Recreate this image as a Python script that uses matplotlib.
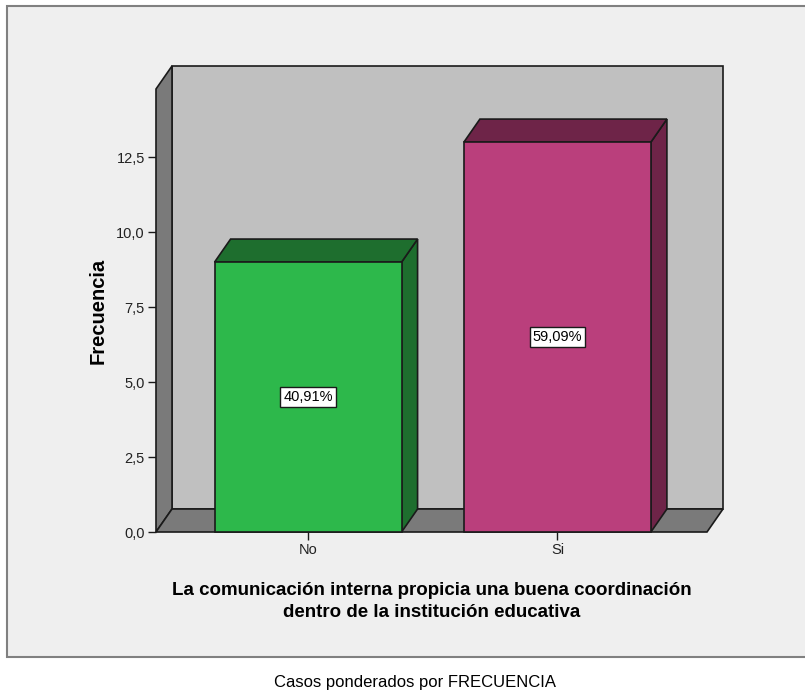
import matplotlib
matplotlib.use('Agg')
import matplotlib.pyplot as plt
from matplotlib.patches import Rectangle, Polygon

# datos
categorias = ['No', 'Si']
frecuencias = [9, 13]
porcentajes = ['40,91%', '59,09%']
y_ticks = [0, 2.5, 5, 7.5, 10, 12.5]
y_tick_labels = ['0,0', '2,5', '5,0', '7,5', '10,0', '12,5']

# colores estilo SPSS
color_frente = ['#2DB84B', '#BA3F7C']
color_lado = ['#1E6E2E', '#6E2448']
gris_fondo = '#C0C0C0'
gris_suelo = '#7A7A7A'
borde = '#1A1A1A'

plt.rcParams['font.family'] = ['Liberation Sans Narrow', 'Liberation Sans', 'DejaVu Sans']

fig = plt.figure(figsize=(8.05, 6.94), dpi=100)
fig.patch.set_facecolor('white')

# marco del grafico
marco = Rectangle((7 / 805, 37 / 694), 800 / 805, 651 / 694, transform=fig.transFigure,
                  facecolor='#EFEFEF', edgecolor='#808080', linewidth=1.5, zorder=-1)
fig.patches.append(marco)

ax = fig.add_axes([156 / 805, 162 / 694, 551 / 805, 443 / 694])
ax.set_facecolor('none')
x0, x1 = -0.61, 1.60
ymax = 14.77
ax.set_xlim(x0, x1)
ax.set_ylim(0, ymax)

# profundidad 3D (en pixeles -> unidades de datos)
dx = 16 * (x1 - x0) / 551
dy = 23 * ymax / 443

# pared del fondo, pared izquierda y suelo
ax.add_patch(Rectangle((x0 + dx, dy), x1 - x0, ymax, facecolor=gris_fondo,
                       edgecolor=borde, linewidth=1.2, clip_on=False, zorder=1))
ax.add_patch(Polygon([(x0, 0), (x0 + dx, dy), (x0 + dx, ymax + dy), (x0, ymax)],
                     facecolor=gris_suelo, edgecolor=borde, linewidth=1.2, clip_on=False, zorder=2))
ax.add_patch(Polygon([(x0, 0), (x1, 0), (x1 + dx, dy), (x0 + dx, dy)],
                     facecolor=gris_suelo, edgecolor=borde, linewidth=1.2, clip_on=False, zorder=2))

# barras 3D
ancho = 0.75
for i, v in enumerate(frecuencias):
    izq, der = i - ancho / 2, i + ancho / 2
    ax.add_patch(Polygon([(der, 0), (der + dx, dy), (der + dx, v + dy), (der, v)],
                         facecolor=color_lado[i], edgecolor=borde, linewidth=1.2, clip_on=False, zorder=3))
    ax.add_patch(Polygon([(izq, v), (der, v), (der + dx, v + dy), (izq + dx, v + dy)],
                         facecolor=color_lado[i], edgecolor=borde, linewidth=1.2, clip_on=False, zorder=3))
    ax.add_patch(Rectangle((izq, 0), ancho, v, facecolor=color_frente[i],
                           edgecolor=borde, linewidth=1.2, clip_on=False, zorder=4))
    ax.text(i, v / 2, porcentajes[i], ha='center', va='center', fontsize=10.5, zorder=5,
            bbox=dict(boxstyle='square,pad=0.2', facecolor='white', edgecolor=borde, linewidth=1))

for s in ax.spines.values():
    s.set_visible(False)

ax.set_yticks(y_ticks)
ax.set_yticklabels(y_tick_labels)
ax.set_xticks(range(len(categorias)))
ax.set_xticklabels(categorias)
ax.tick_params(axis='both', length=6, width=1, color=borde, labelsize=10.5, labelcolor='#222222', pad=2)

ax.set_ylabel('Frecuencia', fontsize=14.5, fontweight='bold', family='Liberation Sans', labelpad=6)
ax.set_xlabel('La comunicación interna propicia una buena coordinación\ndentro de la institución educativa',
              fontsize=13.5, fontweight='bold', family='Liberation Sans', labelpad=18, linespacing=1.35)

fig.text(415 / 805, 1 - 682 / 694, 'Casos ponderados por FRECUENCIA', ha='center', va='center', fontsize=12)

fig.savefig('out.png', dpi=100)
